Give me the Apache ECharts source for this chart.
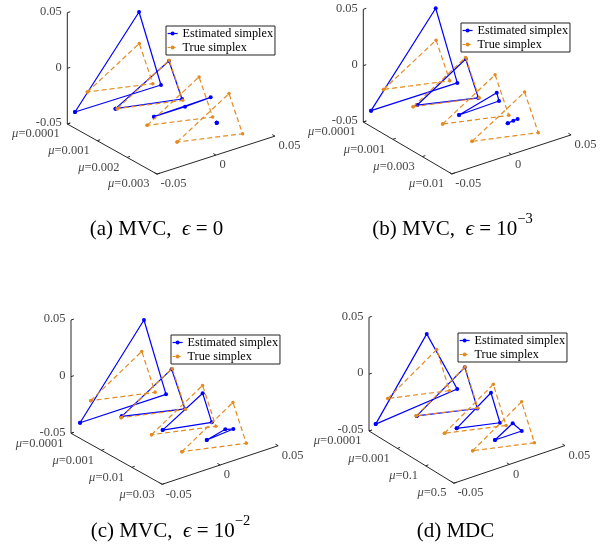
<!DOCTYPE html>
<html><head><meta charset="utf-8">
<script src="https://cdn.jsdelivr.net/npm/echarts@6/dist/echarts.min.js"></script>
<style>html,body{margin:0;padding:0;background:#fff}#c{width:611px;height:552px}</style>
</head><body><div id="c"></div>
<script>
// ---------------- data ----------------
const xTicks = [-0.05, 0, 0.05];
const xTickLabels = ['-0.05', '0', '0.05'];
const zTicks = [-0.05, 0, 0.05];
const zTickLabels = ['-0.05', '0', '0.05'];
const muLabelsA = ['0.0001', '0.001', '0.002', '0.003'];
const muLabelsB = ['0.0001', '0.001', '0.003', '0.01'];
const muLabelsC = ['0.0001', '0.001', '0.01', '0.03'];
const muLabelsD = ['0.0001', '0.001', '0.1', '0.5'];
// true simplex vertices (x, z), same for every mu
const trueSimplex = [[-0.033, -0.027], [0.011, 0.0015], [0.0225, -0.0385]];
// estimated simplex vertices (x, z) for each mu
const estimatedA = [
  [[-0.0435, -0.0414], [0.0108, 0.0299], [0.0294, -0.0421]],
  [[-0.0345, -0.0265], [0.0108, 0.0009], [0.0219, -0.0371]],
  [[-0.0272, -0.0212], [-0.0009, -0.0212], [0.0208, -0.0202]],
  [[0.0006, -0.0211], [0.0006, -0.0211], [0.0006, -0.0211]]
];
const estimatedB = [
  [[-0.0435, -0.0422], [0.0107, 0.0299], [0.0288, -0.0426]],
  [[-0.0295, -0.0267], [0.0111, 0.0001], [0.0217, -0.0381]],
  [[-0.0192, -0.0237], [0.0124, -0.0149], [0.0143, -0.0229]],
  [[-0.0031, -0.0213], [0.0016, -0.0206], [0.0052, -0.0204]]
];
const estimatedC = [
  [[-0.0422, -0.0433], [0.0129, 0.0286], [0.0319, -0.0435]],
  [[-0.0325, -0.026], [0.0105, 0.001], [0.022, -0.038]],
  [[-0.0234, -0.0262], [0.0111, -0.0055], [0.0189, -0.0338]],
  [[-0.0116, -0.024], [0.0044, -0.020], [0.0113, -0.0221]]
];
const estimatedD = [
  [[-0.044, -0.0459], [0.002, 0.0182], [0.0295, -0.0394]],
  [[-0.0325, -0.0272], [0.0108, 0.0012], [0.0222, -0.0388]],
  [[-0.022, -0.0263], [0.0089, -0.0052], [0.017, -0.0343]],
  [[-0.013, -0.0242], [0.003, -0.0148], [0.0111, -0.0243]]
];
const captionTags = ['(a)', '(b)', '(c)', '(d)'];
const captionNames = ['MVC,', 'MVC,', 'MVC,', 'MDC'];
const captionEps = ['0', '10', '10', null];
const captionSup = ['', '−3', '−2', ''];
const seriesNames = ['Estimated simplex', 'True simplex'];

// ---------------- layout (projection of the 3-D view) ----------------
const xMin = -0.05, xMax = 0.05, zMin = -0.05, zMax = 0.05;
const panels = [
  {ox: 67.3, oy: 124, mx: 29.9, my: 16.7, xx: 118, xy: -38, zz: 111.3, lg: [166, 26], cap: [156.5, 229], mu: muLabelsA, est: estimatedA},
  {ox: 363.3, oy: 122, mx: 29.5, my: 17.3, xx: 119.3, xy: -39, zz: 112.7, lg: [461, 23], cap: [452.5, 229], mu: muLabelsB, est: estimatedB},
  {ox: 71, oy: 433.3, mx: 30.4, my: 17, xx: 116, xy: -38.6, zz: 113.3, lg: [171, 335], cap: [170.5, 531], mu: muLabelsC, est: estimatedC},
  {ox: 369, oy: 431, mx: 28.3, my: 17.4, xx: 111, xy: -37.6, zz: 113.7, lg: [458, 333], cap: [455.5, 531], mu: muLabelsD, est: estimatedD}
];
function proj(p, k, x, z) {
  const u = (x - xMin) / (xMax - xMin);
  const w = (z - zMin) / (zMax - zMin);
  return [p.ox + k * p.mx + u * p.xx, p.oy + k * p.my + u * p.xy - w * p.zz];
}

const BLUE = '#0000ff', ORANGE = '#e38b20', AXIS = '#262626';
const FONT = 'Liberation Serif';
const DASH = [5, 3];
const series = [];

panels.forEach((p) => {
  const P = (k, x, z) => proj(p, k, x, z);
  const nMu = p.mu.length;
  series.push({
    type: 'lines', coordinateSystem: 'cartesian2d', polyline: true, silent: true,
    lineStyle: {color: AXIS, width: 1, opacity: 1}, z: 1,
    data: [{coords: [P(0, xMin, zMax), P(0, xMin, zMin), P(nMu - 1, xMin, zMin), P(nMu - 1, xMax, zMin)]}]
  });
  const ticks = [];
  zTicks.forEach(z => ticks.push({coords: [P(0, xMin, z), P(0, xMin + 0.0025, z)]}));
  p.mu.forEach((m, k) => ticks.push({coords: [P(k, xMin, zMin), P(k, xMin + 0.0025, zMin)]}));
  xTicks.forEach(x => ticks.push({coords: [P(nMu - 1, x, zMin), P(nMu - 1.09, x, zMin)]}));
  series.push({
    type: 'lines', coordinateSystem: 'cartesian2d', silent: true,
    lineStyle: {color: AXIS, width: 1, opacity: 1}, z: 1, data: ticks
  });
  const labels = [];
  zTicks.forEach((z, j) => labels.push({value: P(0, xMin, z), label: {position: 'left', distance: 5, offset: [0, -1], formatter: zTickLabels[j]}}));
  p.mu.forEach((m, k) => labels.push({value: P(k, xMin, zMin), label: {position: 'left', distance: 7, offset: [0, 10], formatter: '{m|μ}=' + m}}));
  xTicks.forEach((x, j) => labels.push({value: P(nMu - 1, x, zMin), label: {position: 'right', distance: 3, offset: [0, 10], formatter: xTickLabels[j]}}));
  series.push({
    type: 'scatter', silent: true, symbolSize: 1, itemStyle: {color: 'rgba(0,0,0,0)'}, z: 2,
    label: {show: true, color: '#111', fontFamily: FONT, fontSize: 12.5,
      rich: {m: {fontFamily: FONT, fontSize: 12.5, fontStyle: 'italic', color: '#111'}}},
    data: labels
  });
  p.est.forEach((tri, k) => {
    series.push({
      type: 'line', name: seriesNames[0], silent: true, z: 3,
      symbol: 'circle', symbolSize: 4, showSymbol: true, showAllSymbol: true,
      itemStyle: {color: BLUE}, lineStyle: {color: BLUE, width: 1.2},
      data: [tri[0], tri[1], tri[2], tri[0]].map(v => P(k, v[0], v[1]))
    });
  });
  p.mu.forEach((m, k) => {
    const tri = trueSimplex;
    series.push({
      type: 'line', name: seriesNames[1], silent: true, z: 4,
      symbol: 'circle', symbolSize: 3.5, showSymbol: true, showAllSymbol: true,
      itemStyle: {color: ORANGE}, lineStyle: {color: ORANGE, width: 1.2, type: DASH},
      data: [tri[0], tri[1], tri[2], tri[0]].map(v => P(k, v[0], v[1]))
    });
  });
});

const legends = panels.map(p => ({
  data: [
    {name: seriesNames[0], lineStyle: {width: 1.2}},
    {name: seriesNames[1], lineStyle: {width: 1.2, type: [3, 2]}}
  ],
  orient: 'vertical', left: p.lg[0], top: p.lg[1],
  itemWidth: 10, itemHeight: 5, itemGap: 1, padding: [1, 2, 1, 1],
  borderColor: '#222', borderWidth: 1, backgroundColor: '#fff', selectedMode: false,
  textStyle: {fontFamily: FONT, fontSize: 12.2, color: '#000', lineHeight: 13}
}));

const graphics = panels.map((p, i) => {
  let txt = '{n|' + captionTags[i] + ' ' + captionNames[i] + '}';
  if (captionEps[i] !== null) {
    txt += '{n|  }{i|ϵ}{n| = ' + captionEps[i] + '}';
    if (captionSup[i]) txt += '{s|' + captionSup[i] + '}';
  }
  return {
    type: 'text', x: p.cap[0], y: p.cap[1], silent: true,
    style: {
      text: txt, align: 'center', verticalAlign: 'middle', fill: '#000',
      fontFamily: FONT, fontSize: 21,
      rich: {
        n: {fontFamily: FONT, fontSize: 21, lineHeight: 34, fill: '#000'},
        i: {fontFamily: FONT, fontSize: 21, lineHeight: 34, fontStyle: 'italic', fill: '#000'},
        s: {fontFamily: FONT, fontSize: 14.5, verticalAlign: 'top', fill: '#000'}
      }
    }
  };
});

const chart = echarts.init(document.getElementById('c'), null, {renderer: 'canvas'});
chart.setOption({
  animation: false,
  backgroundColor: '#fff',
  grid: {left: 0, right: 0, top: 0, bottom: 0},
  xAxis: {type: 'value', min: 0, max: 611, show: false},
  yAxis: {type: 'value', min: 0, max: 552, inverse: true, show: false},
  legend: legends,
  graphic: graphics,
  series: series
});
</script></body></html>
